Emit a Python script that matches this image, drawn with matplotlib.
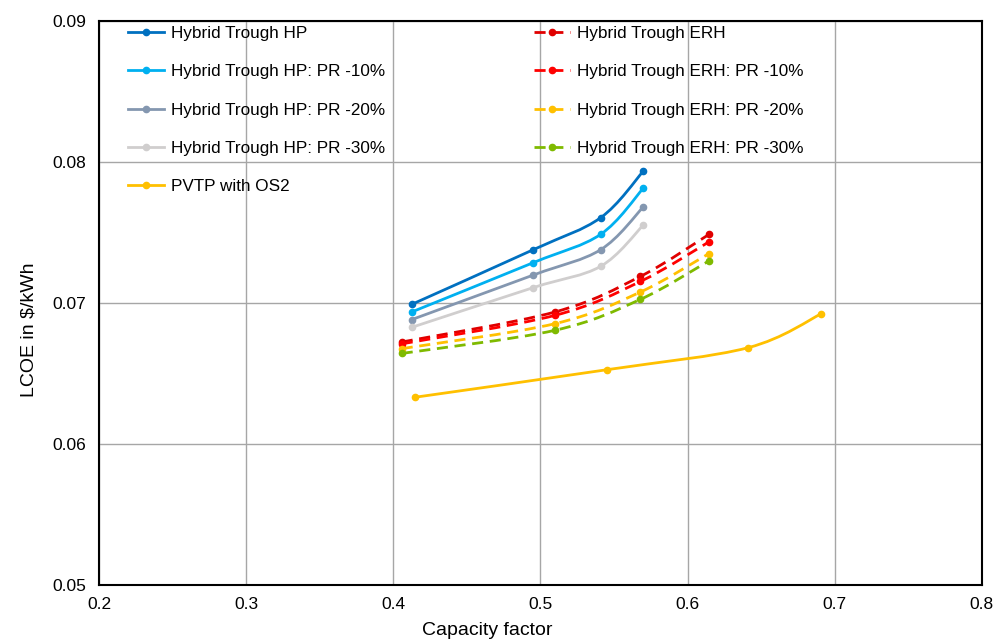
import matplotlib.pyplot as plt
from matplotlib.lines import Line2D
from matplotlib.patches import PathPatch
from matplotlib.path import Path

# capacity factor / LCOE values
cf_hp = [0.4125, 0.4951, 0.5409, 0.5698]
lcoe_hp = [0.06989, 0.07377, 0.07604, 0.07933]
lcoe_hp_10 = [0.06935, 0.07285, 0.07486, 0.07812]
lcoe_hp_20 = [0.06881, 0.07197, 0.07377, 0.07679]
lcoe_hp_30 = [0.06826, 0.07108, 0.07259, 0.07550]

cf_erh = [0.4057, 0.5098, 0.5680, 0.6146]
lcoe_erh = [0.06722, 0.06935, 0.07188, 0.07486]
lcoe_erh_10 = [0.06709, 0.06911, 0.07152, 0.07433]
lcoe_erh_20 = [0.06675, 0.06852, 0.07077, 0.07350]
lcoe_erh_30 = [0.06641, 0.06805, 0.07025, 0.07298]

cf_pvtp = [0.4147, 0.5455, 0.6412, 0.6910]
lcoe_pvtp = [0.0633, 0.06526, 0.06682, 0.06923]

x_ticks = [0.2, 0.3, 0.4, 0.5, 0.6, 0.7, 0.8]
y_ticks = [0.05, 0.06, 0.07, 0.08, 0.09]

plt.rcParams["font.family"] = ["Liberation Sans", "DejaVu Sans"]


def smooth_path(xs, ys):
    # Excel-style smoothed line: Catmull-Rom segments as cubic Beziers
    pts = list(zip(xs, ys))
    verts = [pts[0]]
    codes = [Path.MOVETO]
    for i in range(len(pts) - 1):
        p0 = pts[i - 1] if i > 0 else pts[i]
        p1 = pts[i]
        p2 = pts[i + 1]
        p3 = pts[i + 2] if i + 2 < len(pts) else pts[i + 1]
        c1 = (p1[0] + (p2[0] - p0[0]) / 6, p1[1] + (p2[1] - p0[1]) / 6)
        c2 = (p2[0] - (p3[0] - p1[0]) / 6, p2[1] - (p3[1] - p1[1]) / 6)
        verts += [c1, c2, p2]
        codes += [Path.CURVE4] * 3
    return Path(verts, codes)


fig = plt.figure(figsize=(10.05, 6.41), dpi=100)
ax = fig.add_axes([0.0985, 0.0878, 0.8785, 0.8795])

dash = (0, (4, 2.4))
series = [
    (cf_hp, lcoe_hp, "#0070C0", "-", "Hybrid Trough HP"),
    (cf_hp, lcoe_hp_10, "#00B0F0", "-", "Hybrid Trough HP: PR -10%"),
    (cf_hp, lcoe_hp_20, "#8497B0", "-", "Hybrid Trough HP: PR -20%"),
    (cf_hp, lcoe_hp_30, "#D0CECE", "-", "Hybrid Trough HP: PR -30%"),
    (cf_pvtp, lcoe_pvtp, "#FFC000", "-", "PVTP with OS2"),
    (cf_erh, lcoe_erh, "#E00000", dash, "Hybrid Trough ERH"),
    (cf_erh, lcoe_erh_10, "#FF0000", dash, "Hybrid Trough ERH: PR -10%"),
    (cf_erh, lcoe_erh_20, "#FFC000", dash, "Hybrid Trough ERH: PR -20%"),
    (cf_erh, lcoe_erh_30, "#7FBA00", dash, "Hybrid Trough ERH: PR -30%"),
]

handles = []
for xs, ys, color, ls, label in series:
    patch = PathPatch(smooth_path(xs, ys), fill=False, edgecolor=color,
                      linewidth=2.0, linestyle=ls, capstyle="butt", zorder=3)
    ax.add_patch(patch)
    ax.plot(xs, ys, "o", color=color, markersize=4.5, zorder=4)
    handles.append(Line2D([], [], color=color, linewidth=2.0, linestyle=ls,
                          marker="o", markersize=4.5, label=label))

ax.set_xlim(0.2, 0.8)
ax.set_ylim(0.05, 0.09)
ax.set_xticks(x_ticks)
ax.set_yticks(y_ticks)
ax.set_xticklabels([f"{v:g}" for v in x_ticks])
ax.set_yticklabels([f"{v:.2f}" for v in y_ticks])
ax.tick_params(length=0, labelsize=12.5, pad=9)
ax.grid(True, color="#A6A6A6", linewidth=1.0)
ax.set_axisbelow(True)
for spine in ax.spines.values():
    spine.set_color("black")
    spine.set_linewidth(1.5)

leg_kw = dict(frameon=False, fontsize=12.3, handlelength=2.1, handletextpad=0.4,
              labelspacing=1.36, borderaxespad=0, borderpad=0, loc="upper left")
leg1 = ax.legend(handles=handles[:5], bbox_to_anchor=(0.033, 0.991), **leg_kw)
ax.add_artist(leg1)
ax.legend(handles=handles[5:], bbox_to_anchor=(0.493, 0.991), **leg_kw)

fig.text(0.485, 0.017, "Capacity factor", ha="center", va="center", fontsize=14)
fig.text(0.029, 0.485, "LCOE in $/kWh", ha="center", va="center",
         rotation=90, fontsize=14)

fig.savefig("out.png", dpi=100)
